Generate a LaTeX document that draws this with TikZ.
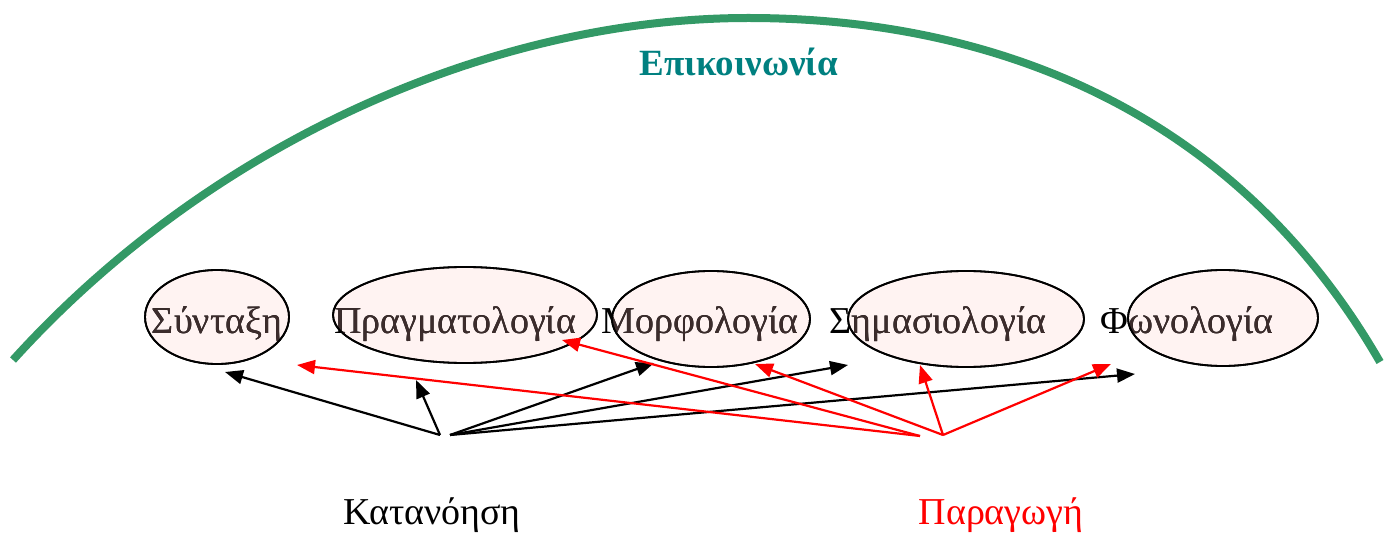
\documentclass[tikz,border=0pt]{standalone}
\usepackage{fontspec}
\setmainfont{Liberation Serif}
\usetikzlibrary{shapes.geometric,arrows.meta}
\definecolor{arcgreen}{RGB}{51,153,102}
\definecolor{titleteal}{RGB}{0,128,128}
\definecolor{ellfill}{RGB}{255,243,242}
\definecolor{inktext}{RGB}{60,44,44}
\definecolor{prodred}{RGB}{255,0,0}
\tikzset{
  ellbox/.style={ellipse, draw=black, line width=1.8pt, fill=ellfill, inner sep=0pt},
  lbl/.style={anchor=base, inner sep=0pt, font=\fontsize{38}{40}\selectfont},
  compr/.style={draw=black, line width=2.2pt, -{Triangle[length=18pt,width=14pt]}},
  prod/.style={draw=prodred, line width=2.2pt, -{Triangle[length=18pt,width=14pt]}},
  arcline/.style={draw=arcgreen, line width=8pt},
}
% \EBox{name}{cx}{cy}{rx}{ry}{text x}{text}
\newcommand\EBox[7]{%
  \node[ellbox, minimum width=#4pt*2, minimum height=#5pt*2] (#1) at (#2,#3) {};
  \node[lbl, text=black] (#1t) at (#6,333) {#7};
  \begin{scope}
    \clip (#2,#3) ellipse [x radius=#4pt, y radius=#5pt];
    \node[lbl, text=inktext] at (#6,333) {#7};
  \end{scope}
  \draw[line width=1.8pt] (#2,#3) ellipse [x radius=#4pt, y radius=#5pt];
}
\begin{document}
\begin{tikzpicture}[x=1pt,y=-1pt]
\useasboundingbox (0,0) rectangle (1388,534);
% big arc
\coordinate (arcL) at (13,360);
\coordinate (arcT) at (748,18);
\coordinate (arcR) at (1380,362);
\draw[arcline] (arcL) .. controls (214,138) and (498,18) .. (arcT)
               .. controls (913,18) and (1206,60) .. (arcR);
\node[anchor=base, inner sep=0pt, text=titleteal, font=\fontsize{37}{39}\selectfont\bfseries] (title) at (739,76) {Επικοινωνία};
% ellipses with labels
\EBox{syn}{217}{317}{72}{47}{217}{Σύνταξη}
\EBox{pra}{465}{315}{132}{48}{455}{Πραγματολογία}
\EBox{mor}{711}{319}{99}{48}{700}{Μορφολογία}
\EBox{sim}{966}{319}{118}{48}{938}{Σημασιολογία}
\EBox{fon}{1223}{318}{95}{48}{1187}{Φωνολογία}
% bottom labels
\node[lbl, text=black] (kat) at (432,524) {Κατανόηση};
\node[lbl, text=prodred] (par) at (1001,524) {Παραγωγή};
% sources and targets
\coordinate (k1) at (440,435);
\coordinate (k2) at (450,435);
\coordinate (p1) at (920,436);
\coordinate (p2) at (943,435);
\coordinate (ksyn) at (225,372);
\coordinate (kpra) at (416,380);
\coordinate (kmor) at (654,363);
\coordinate (ksim) at (848,365);
\coordinate (kfon) at (1135,374);
\coordinate (psyn) at (297,365);
\coordinate (ppra) at (562,340);
\coordinate (pmor) at (755,364);
\coordinate (psim) at (920,365);
\coordinate (pfon) at (1111,364);
% comprehension arrows
\draw[compr] (k1) -- (ksyn);
\draw[compr] (k1) -- (kpra);
\draw[compr] (k2) -- (kmor);
\draw[compr] (k2) -- (ksim);
\draw[compr] (k2) -- (kfon);
% production arrows
\draw[prod] (p1) -- (psyn);
\draw[prod] (p1) -- (ppra);
\draw[prod] (p2) -- (pmor);
\draw[prod] (p2) -- (psim);
\draw[prod] (p2) -- (pfon);
\end{tikzpicture}
\end{document}
